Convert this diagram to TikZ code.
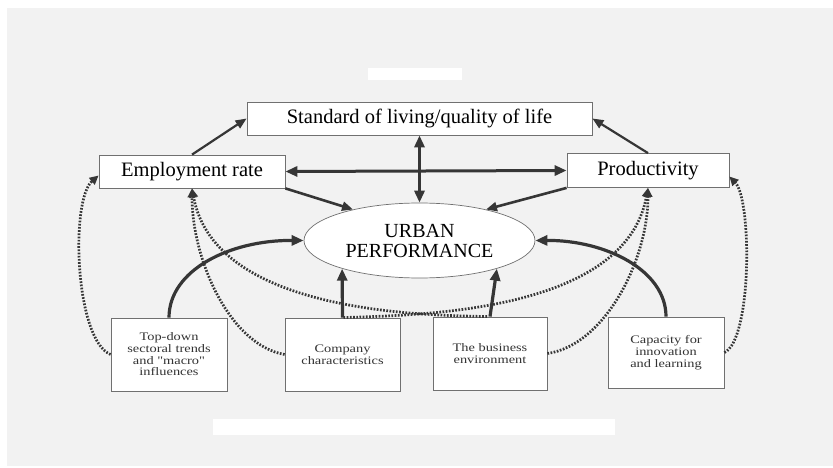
\documentclass[tikz,border=0pt]{standalone}
\usepackage{fontspec}
\setmainfont{Liberation Serif}
\newfontfamily\smallserif{Liberation Serif}[FakeStretch=1.25]
\usetikzlibrary{arrows.meta,shapes.geometric}
\definecolor{bgray}{HTML}{F2F2F2}
\definecolor{ink}{HTML}{363636}
\definecolor{edge}{HTML}{707070}
\begin{document}
\begin{tikzpicture}[x=1pt,y=-1pt,
  box/.style={draw=edge, line width=0.8pt, fill=white, inner sep=0pt, align=center},
  bigtxt/.style={font=\fontsize{20.5}{21}\selectfont},
  smalltxt/.style={font=\smallserif\fontsize{11.5}{11.7}\selectfont, text=black!80},
  conn/.style={draw=ink, line width=2.2pt, -{Triangle[length=11pt,width=9pt]}},
  thickconn/.style={draw=ink, line width=3.2pt, -{Triangle[length=12pt,width=10pt]}},
  dbl/.style={draw=ink, line width=3pt, {Triangle[length=12pt,width=10pt]}-{Triangle[length=12pt,width=10pt]}},
  dotconn/.style={draw=ink, line width=2.7pt, dash pattern=on 1.7pt off 1.5pt, -{Triangle[length=9pt,width=8.5pt]}}
]
\useasboundingbox (0,0) rectangle (833,468);
\fill[white] (0,0) rectangle (833,468);
\fill[bgray] (7,8) rectangle (833,466);
% whited-out title and caption areas
\fill[white] (368,68) rectangle (462,80);
\fill[white] (213,419) rectangle (615,435);

% nodes
\node[box, bigtxt, minimum width=345pt, minimum height=33pt] (std) at (419.5,118.5) {Standard of living/quality of life};
\node[box, bigtxt, minimum width=186pt, minimum height=33pt] (emp) at (192,171.5) {Employment rate};
\node[box, bigtxt, minimum width=162pt, minimum height=34pt] (prod) at (648,170.5) {Productivity};
\node[ellipse, draw=edge, line width=0.7pt, fill=white, inner sep=0pt, align=center,
      minimum width=231pt, minimum height=75pt, font=\fontsize{20}{20}\selectfont] (urb) at (419.5,240.5) {URBAN\\PERFORMANCE};
\node[box, smalltxt, minimum width=116pt, minimum height=73pt] (td) at (169,354.5) {Top-down\\sectoral trends\\and "macro"\\influences};
\node[box, smalltxt, minimum width=115pt, minimum height=73pt] (comp) at (342.5,354.5) {Company\\characteristics};
\node[box, smalltxt, minimum width=114pt, minimum height=73pt] (bus) at (490,353.5) {The business\\environment};
\node[box, smalltxt, minimum width=116pt, minimum height=71pt] (cap) at (666,352.5) {Capacity for\\innovation\\and learning};

% dotted influences
\draw[dotconn] (td.west) .. controls (75,340) and (70,200) .. ([yshift=-4pt]emp.west);
\draw[dotconn] (cap.east) .. controls (752,340) and (752,200) .. ([yshift=-6pt]prod.east);
\draw[dotconn] (comp.west) .. controls (230,345) and (192,260) .. (emp.south);
\draw[dotconn] (bus.east) .. controls (605,345) and (648,260) .. (prod.south);
\draw[dotconn] ([xshift=-3pt]bus.north) .. controls (430,315) and (215,315) .. (emp.south);
\draw[dotconn] ([xshift=1pt]comp.north) .. controls (410,315) and (625,315) .. (prod.south);

% solid connectors
\draw[conn] (emp.north) -- (std.west);
\draw[conn] (prod.north) -- (std.east);
\draw[dbl] (emp.east) -- (prod.west);
\draw[dbl] (std.south) -- (urb.north);
\draw[conn, line width=2.6pt] (emp.south east) -- (urb.155);
\draw[conn, line width=2.6pt] (prod.south west) -- (urb.25);
\draw[thickconn] (comp.north) -- (urb.200);
\draw[thickconn] (bus.north) -- (urb.340);
\draw[thickconn] (td.north) .. controls (169,270) and (230,240) .. (urb.west);
\draw[thickconn] (cap.north) .. controls (666,270) and (605,240) .. (urb.east);
\end{tikzpicture}
\end{document}
